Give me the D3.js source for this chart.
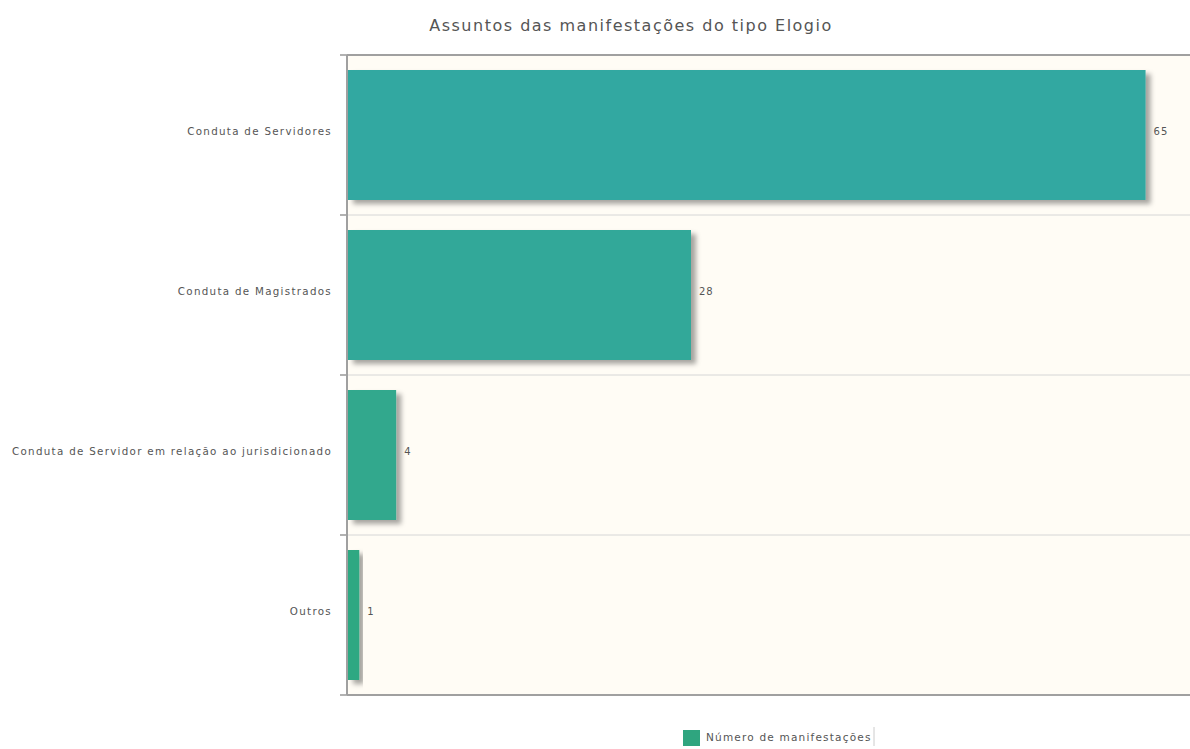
<!DOCTYPE html>
<html>
<head>
<meta charset="utf-8">
<script src="https://cdn.jsdelivr.net/npm/d3@7"></script>
<style>
html,body{margin:0;padding:0;background:#fff;}
svg{display:block;}
</style>
</head>
<body>
<svg id="chart" width="1190" height="749"></svg>
<script>
const categories = ["Conduta de Servidores","Conduta de Magistrados","Conduta de Servidor em relação ao jurisdicionado","Outros"];
const values = [65, 28, 4, 1];
const barColors = ["#33a8a1","#33a899","#33a88d","#2fa882"];
const seriesName = "Número de manifestações";
const legendColor = "#2fa57f";
const title = "Assuntos das manifestações do tipo Elogio";

(function(){
const svg = d3.select("#chart");
const font = "DejaVu Sans, Verdana, sans-serif";
const pLeft = 347, pTop = 55, pBottom = 695, pRight = 1207;

const x = d3.scaleLinear().domain([0, 70]).range([pLeft, pRight]);
const y = d3.scaleBand().domain(categories).range([pTop, pBottom]).paddingInner(0.1875).paddingOuter(0.09375);

const defs = svg.append("defs");
const f = defs.append("filter").attr("id","sh").attr("x","-20%").attr("y","-20%").attr("width","150%").attr("height","150%");
f.append("feDropShadow").attr("dx",5).attr("dy",4).attr("stdDeviation",2.5).attr("flood-color","#000").attr("flood-opacity",0.35);

svg.append("rect").attr("x", pLeft).attr("y", pTop).attr("width", pRight-pLeft).attr("height", pBottom-pTop).attr("fill","#fffcf5");

const step = y.step();
const bounds = d3.range(categories.length+1).map(i => pTop + i*step);
svg.append("g").selectAll("line").data(bounds.slice(1,-1)).join("line")
  .attr("x1", pLeft).attr("x2", pRight).attr("y1", d=>d).attr("y2", d=>d)
  .attr("stroke","#d6d6d6").attr("stroke-width",1);

svg.append("g").selectAll("line").data(bounds).join("line")
  .attr("x1", pLeft-7).attr("x2", pLeft).attr("y1", d=>d).attr("y2", d=>d)
  .attr("stroke","#999").attr("stroke-width",1.5);

svg.append("line").attr("x1",pLeft).attr("x2",pRight).attr("y1",pTop).attr("y2",pTop).attr("stroke","#a0a0a0").attr("stroke-width",2);
svg.append("line").attr("x1",pLeft).attr("x2",pRight).attr("y1",pBottom).attr("y2",pBottom).attr("stroke","#a0a0a0").attr("stroke-width",2);
svg.append("line").attr("x1",pLeft).attr("x2",pLeft).attr("y1",pTop).attr("y2",pBottom).attr("stroke","#a0a0a0").attr("stroke-width",2);

svg.append("g").selectAll("rect").data(values).join("rect")
  .attr("x", x(0)+1).attr("y", (d,i)=>y(categories[i]))
  .attr("width", d => x(d)-x(0)-1).attr("height", y.bandwidth())
  .attr("fill", (d,i)=>barColors[i]).attr("filter","url(#sh)");

svg.append("g").selectAll("text").data(values).join("text")
  .attr("x", d => x(d)+8).attr("y", (d,i)=>y(categories[i])+y.bandwidth()/2-4)
  .attr("dy","0.35em").attr("font-family",font).attr("font-size",10).attr("letter-spacing",1).attr("fill","#555")
  .text(d=>d);

svg.append("g").selectAll("text").data(categories).join("text")
  .attr("x", pLeft-15).attr("y", d=>y(d)+y.bandwidth()/2-4)
  .attr("dy","0.35em").attr("text-anchor","end").attr("font-family",font).attr("font-size",10.3).attr("letter-spacing",1.3).attr("fill","#555")
  .text(d=>d);

svg.append("text").attr("x",631).attr("y",31).attr("text-anchor","middle")
  .attr("font-family",font).attr("font-size",16).attr("letter-spacing",1.5).attr("fill","#555").text(title);

const lg = svg.append("g");
lg.append("line").attr("x1",874).attr("x2",874).attr("y1",727).attr("y2",746).attr("stroke","#ccc");
lg.append("rect").attr("x",683).attr("y",730).attr("width",17).attr("height",16).attr("fill",legendColor);
lg.append("text").attr("x",706).attr("y",737).attr("dy","0.35em").attr("font-family",font).attr("font-size",10.5).attr("letter-spacing",1.2).attr("fill","#555").text(seriesName);
})();
</script>
</body>
</html>
